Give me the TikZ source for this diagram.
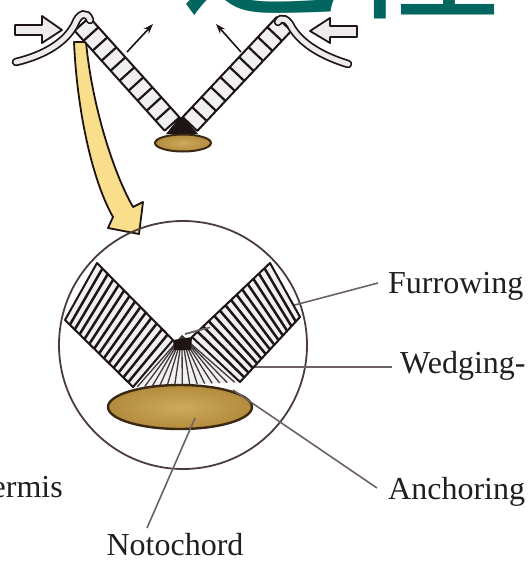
\documentclass[tikz,border=0pt]{standalone}
\usepackage{fontspec}
\setmainfont{Liberation Serif}
\newfontfamily\cjk{Noto Sans CJK SC}
\usetikzlibrary{calc,arrows.meta}
\definecolor{ink}{HTML}{1E1414}
\definecolor{leader}{HTML}{6E6262}
\definecolor{ringline}{HTML}{4C3C3C}
\definecolor{cellfill}{HTML}{F0EFF2}
\definecolor{chord}{HTML}{B38B3C}
\definecolor{chordlight}{HTML}{CDAA5E}
\definecolor{chordedge}{HTML}{3A2814}
\definecolor{banner}{HTML}{00665F}
\definecolor{bigarrow}{HTML}{F9DE8C}
\definecolor{sheet}{HTML}{EDEBEC}
\begin{document}
\begin{tikzpicture}[x=1pt,y=-1pt,
  lbl/.style={font=\fontsize{32}{36}\selectfont, inner sep=0pt, text=black!88},
  leaderline/.style={draw=leader, line width=1.6pt},
  bandbox/.style={fill=cellfill, draw=ink, line width=2pt, line join=round},
  rung/.style={draw=ink, line width=2.5pt},
  fanline/.style={draw=ink!85, line width=1.3pt},
  hollow/.style={fill=sheet, draw=ink, line width=1.8pt, line join=round},
  pointer/.style={draw=ink, line width=1.6pt, -{Stealth[length=10pt,width=7pt]}},
  sheetout/.style={draw=ink, line width=8.5pt, line cap=round},
  sheetin/.style={draw=sheet, line width=5pt, line cap=round},
  notochordfill/.style={inner color=chordlight, outer color=chord},
  notochordedge/.style={draw=chordedge, line width=2.4pt}]
\useasboundingbox (0,0) rectangle (528,562);
\clip (0,0) rectangle (528,562);
\fill[white] (0,0) rectangle (528,562);

% title fragment
\node[anchor=base west, inner sep=0pt, text=banner,
      font=\cjk\fontsize{160}{160}\selectfont] (title) at (180,6) {过程};

% ---------- upper sketch: folding neural plate ----------
% yellow magnifying arrow
\filldraw[fill=bigarrow, draw=ink, line width=1.8pt, line join=round]
  (74,42) .. controls (77,110) and (92,180) .. (113,217) -- (108,228) -- (139,234)
  -- (143,202) -- (133,207) .. controls (113,172) and (92,105) .. (86,42) -- cycle;

% left plate half
\coordinate (tl1) at (89.4,17.3);
\coordinate (tl2) at (179.4,117.3);
\coordinate (tl3) at (164.6,130.7);
\coordinate (tl4) at (74.6,30.7);
% right plate half
\coordinate (tr1) at (276.7,17.1);
\coordinate (tr2) at (291.3,30.9);
\coordinate (tr3) at (197.3,130.9);
\coordinate (tr4) at (182.7,117.1);

\fill[ink] (tl2) -- (tr4) -- (198,134) -- (166,134) -- cycle;
\path[bandbox] (tl1) -- (tl2) -- (tl3) -- (tl4) -- cycle;
\path[bandbox] (tr1) -- (tr2) -- (tr3) -- (tr4) -- cycle;
\foreach \t in {0.1,0.2,...,0.91}{
  \draw[rung, line width=2.2pt] ($(tl1)!\t!(tl2)$) -- ($(tl4)!\t!(tl3)$);
  \draw[rung, line width=2.2pt] ($(tr4)!\t!(tr1)$) -- ($(tr3)!\t!(tr2)$);
}
% small notochord
\shade[notochordfill] (183,143) ellipse [x radius=28pt, y radius=8.5pt];
\draw[notochordedge, line width=2pt] (183,143) ellipse [x radius=28pt, y radius=8.5pt];

% epidermis sheets curling over the plate edges
\draw[sheetout] (16,62) .. controls (45,55) and (66,42) .. (75,24) .. controls (79,13) and (87,11) .. (90,20);
\draw[sheetin]  (16,62) .. controls (45,55) and (66,42) .. (75,24) .. controls (79,13) and (87,11) .. (90,20);
\draw[sheetout] (348,64) .. controls (322,56) and (302,44) .. (292,28) .. controls (288,19) and (281,16) .. (278,22);
\draw[sheetin]  (348,64) .. controls (322,56) and (302,44) .. (292,28) .. controls (288,19) and (281,16) .. (278,22);

% pushing forces
\path[hollow] (15,25) -- (42,25) -- (42,16) -- (62,30) -- (42,43) -- (42,35) -- (15,35) -- cycle;
\path[hollow] (357,26) -- (330,26) -- (330,18) -- (310,31) -- (330,43) -- (330,37) -- (357,37) -- cycle;
\coordinate (pl0) at (127,52); \coordinate (pl1) at (153,24);
\coordinate (pr0) at (241,52); \coordinate (pr1) at (216,24);
\draw[pointer] (pl0) -- (pl1);
\draw[pointer] (pr0) -- (pr1);

% ---------- enlarged view ----------
\coordinate (ringc) at (183,345);
\draw[draw=ringline, line width=1.8pt] (ringc) circle [radius=124pt];

% label texts
\node[lbl, anchor=base west] (furrow) at (388,293) {Furrowing};
\node[lbl, anchor=base west] (wedge) at (400,373) {Wedging-};
\node[lbl, anchor=base west] (anchoring) at (388,499) {Anchoring};
\node[lbl, anchor=base] (noto) at (175,555) {Notochord};
\node[lbl, anchor=base east] (epi) at (63,497) {Epidermis};

% leader ends
\coordinate (furrowtip) at (185,334);
\coordinate (furrowend) at (378,283);
\coordinate (wedgetip) at (215,367);
\coordinate (wedgeend) at (392,367);
\coordinate (anchortip) at (233,390);
\coordinate (anchorend) at (377,488);
\coordinate (nototip) at (195,418);
\coordinate (notoend) at (147,528);

\draw[leaderline] (furrowtip) -- (furrowend);
\draw[leaderline] (wedgetip) -- (wedgeend);

% plate halves
\coordinate (la) at (97,263);
\coordinate (lb) at (65,320);
\coordinate (lc) at (133,387);
\coordinate (ld) at (173,340);
\coordinate (ra) at (270,263);
\coordinate (rb) at (300,317);
\coordinate (rc) at (240,382);
\coordinate (rd) at (192,337);
\coordinate (apex) at (182,336);

% wedge of the hinge point
\path[fill=cellfill] (ld) -- (rd) -- (rc) -- (lc) -- cycle;
\foreach \t in {0.04,0.11,...,0.97}{
  \draw[fanline] (apex) -- ($(lc)!\t!(rc)$);
}
\fill[ink] (ld) -- (rd) -- (191,350) -- (174,350) -- cycle;

\path[bandbox] (la) -- (ld) -- (lc) -- (lb) -- cycle;
\path[bandbox] (rd) -- (ra) -- (rb) -- (rc) -- cycle;
\foreach \t in {0.0714,0.1429,...,0.93}{
  \draw[rung] ($(la)!\t!(ld)$) -- ($(lb)!\t!(lc)$);
  \draw[rung] ($(rd)!\t!(ra)$) -- ($(rc)!\t!(rb)$);
}

% notochord
\shade[notochordfill] (180,407) ellipse [x radius=72pt, y radius=22pt];
\draw[notochordedge] (180,407) ellipse [x radius=72pt, y radius=22pt];

% leaders drawn over the tissue
\draw[leaderline] (furrowtip) -- ($(furrowtip)!0.13!(furrowend)$);
\draw[leaderline] (anchortip) -- (anchorend);
\draw[leaderline] (nototip) -- (notoend);
\end{tikzpicture}
\end{document}
